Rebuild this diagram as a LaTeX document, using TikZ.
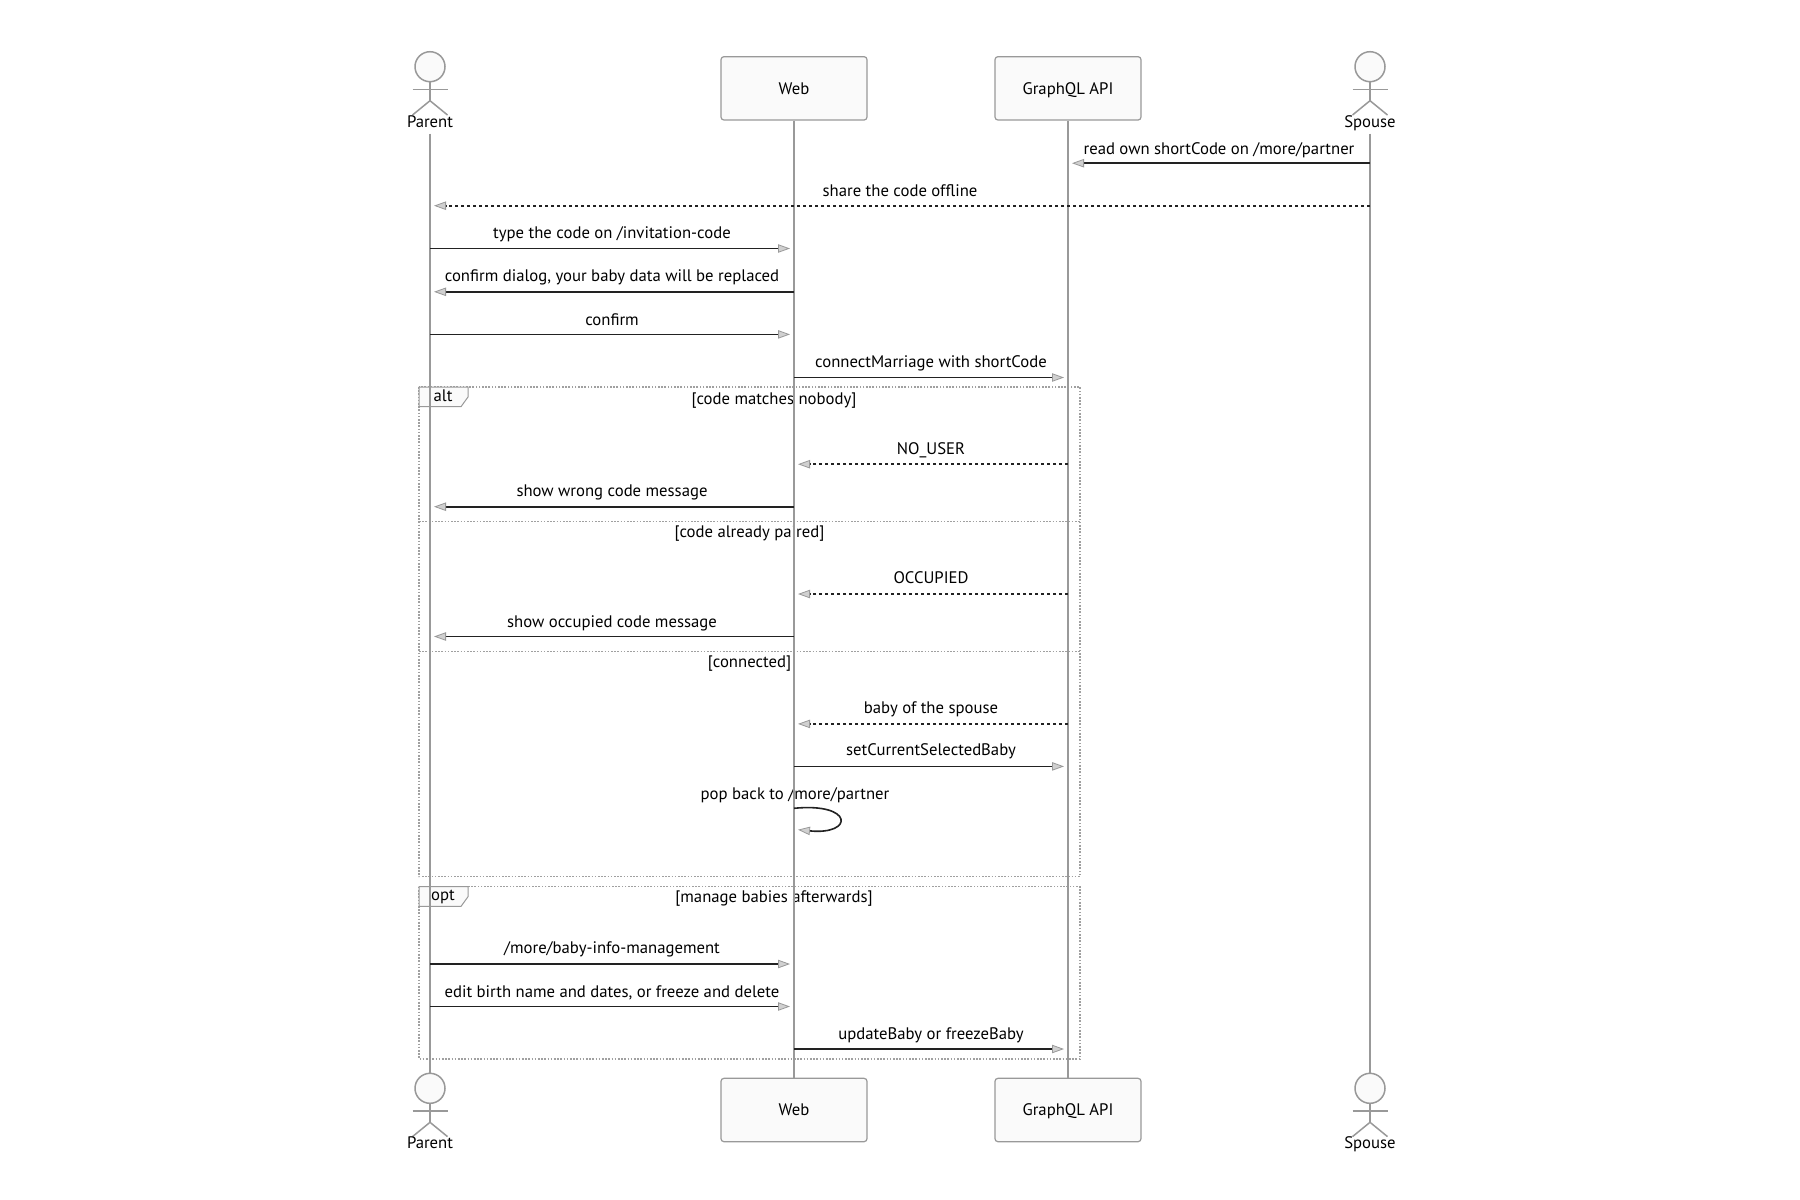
\documentclass[tikz,border=0pt]{standalone}
\usepackage{fontspec}
\setmainfont{PT Sans}
\usetikzlibrary{arrows.meta,calc}
\definecolor{lifegray}{HTML}{999999}
\definecolor{boxfill}{HTML}{FAFAFA}
\definecolor{msgcol}{HTML}{222222}
\definecolor{headfill}{HTML}{D0D0D0}
\definecolor{framecol}{HTML}{A0A0A0}
\newcommand\actorbody[1]{%
  \draw[actorline] (#1.south) -- ($(#1.center)+(0,34)$) coordinate (#1hip);
  \draw[actorline] ($(#1.center)+(-17.5,22.6)$) -- ($(#1.center)+(17.5,22.6)$);
  \draw[actorline] ($(#1hip)+(-17.5,14.3)$) -- (#1hip) -- ($(#1hip)+(17.5,14.3)$);}
\begin{document}
\begin{tikzpicture}[x=0.5pt,y=-0.5pt,
  txt/.style={font=\fontsize{8.35}{10}\selectfont, text=black, inner sep=0pt, text height=6.2pt, text depth=1.8pt},
  participant/.style={draw=lifegray, fill=boxfill, rounded corners=1.5pt, line width=0.6pt,
    minimum width=73pt, minimum height=31.7pt, inner sep=0pt, font=\fontsize{8.35}{10}\selectfont,
    text height=6.2pt, text depth=0.4pt},
  actorhead/.style={circle, draw=lifegray, fill=boxfill, line width=0.75pt, minimum size=15pt, inner sep=0pt},
  actorline/.style={draw=lifegray, line width=0.75pt},
  actorlabel/.style={txt, inner ysep=1pt},
  lifeline/.style={draw=lifegray, line width=0.8pt},
  msghead/.style={-{Triangle[fill=headfill, color=lifegray, length=6pt, width=4.2pt, line width=0.4pt]}},
  msg/.style={draw=msgcol, line width=0.8pt, msghead, shorten >=2pt},
  reply/.style={msg, dash pattern=on 1.5pt off 1.5pt},
  frame/.style={draw=framecol, line width=0.6pt, dash pattern=on 0.8pt off 0.8pt},
  framelabel/.style={draw=lifegray, fill=boxfill, line width=0.5pt},
]
\useasboundingbox (0,0) rectangle (1800,1200);
\fill[white] (0,0) rectangle (1800,1200);

% ---------- participants (top) ----------
\node[actorhead] (Phead) at (430,66.7) {};
\actorbody{Phead}
\node[actorlabel] (Plab) at (430,123.3) {Parent};
\node[participant] (Wtop) at (794,88.35) {Web};
\node[participant] (Gtop) at (1068,88.35) {GraphQL API};
\node[actorhead] (Shead) at (1370,66.7) {};
\actorbody{Shead}
\node[actorlabel] (Slab) at (1370,123.3) {Spouse};

% ---------- participants (bottom) ----------
\node[actorhead] (Pbhead) at (430,1088.3) {};
\actorbody{Pbhead}
\node[actorlabel] (Pblab) at (430,1144.3) {Parent};
\node[participant] (Wbot) at (794,1110) {Web};
\node[participant] (Gbot) at (1068,1110) {GraphQL API};
\node[actorhead] (Sbhead) at (1370,1088.3) {};
\actorbody{Sbhead}
\node[actorlabel] (Sblab) at (1370,1144.3) {Spouse};

% ---------- frames ----------
\draw[frame] (419,387) rectangle (1080,876.7);
\draw[frame] (419,521.6) -- (1080,521.6);
\draw[frame] (419,651.5) -- (1080,651.5);
\draw[framelabel] (419,387) -- (468,387) -- (468,397) -- (461,406.7) -- (419,406.7) -- cycle;
\node[txt] (altlab) at (443,397) {alt};
\node[txt] (altc1) at (774,399.9) {[code matches nobody]};
\node[txt] (altc2) at (749.5,533.1) {[code already paired]};
\node[txt] (altc3) at (749.5,663) {[connected]};

\draw[frame] (419,886.7) rectangle (1080,1059);
\draw[framelabel] (419,886.7) -- (468,886.7) -- (468,896.7) -- (461,906.4) -- (419,906.4) -- cycle;
\node[txt] (optlab) at (443,896.5) {opt};
\node[txt] (optc1) at (774,898.5) {[manage babies afterwards]};

% ---------- message texts ----------
\node[txt] (t1) at (1219,149.7) {read own shortCode on /more/partner};
\node[txt] (t2) at (900,191.9) {share the code offline};
\node[txt] (t3) at (612,234.4) {type the code on /invitation-code};
\node[txt] (t4) at (612,276.9) {confirm dialog, your baby data will be replaced};
\node[txt] (t5) at (612,320.6) {confirm};
\node[txt] (t6) at (931,363) {connectMarriage with shortCode};
\node[txt] (t7) at (931,450.4) {NO\_USER};
\node[txt] (t8) at (612,491.8) {show wrong code message};
\node[txt] (t9) at (931,579.1) {OCCUPIED};
\node[txt] (t10) at (612,622.8) {show occupied code message};
\node[txt] (t11) at (931,708.9) {baby of the spouse};
\node[txt] (t12) at (931,751.4) {setCurrentSelectedBaby};
\node[txt] (t13) at (795,795) {pop back to /more/partner};
\node[txt] (t14) at (612,949.1) {/more/baby-info-management};
\node[txt] (t15) at (612,992.7) {edit birth name and dates, or freeze and delete};
\node[txt] (t16) at (931,1035.2) {updateBaby or freezeBaby};

% ---------- lifelines ----------
\draw[lifeline] (Plab.south) -- (Pbhead.north);
\draw[lifeline] (Wtop.south) -- (Wbot.north);
\draw[lifeline] (Gtop.south) -- (Gbot.north);
\draw[lifeline] (Slab.south) -- (Sbhead.north);

% ---------- messages ----------
\draw[msg]   (Slab |- 0,163.2) -- (Gtop |- 0,163.2);
\draw[reply] (Slab |- 0,205.7) -- (Plab |- 0,205.7);
\draw[msg]   (Plab |- 0,248.5) -- (Wtop |- 0,248.5);
\draw[msg]   (Wtop |- 0,291.8) -- (Plab |- 0,291.8);
\draw[msg]   (Plab |- 0,334.4) -- (Wtop |- 0,334.4);
\draw[msg]   (Wtop |- 0,377.5) -- (Gtop |- 0,377.5);
\draw[reply] (Gtop |- 0,464.2) -- (Wtop |- 0,464.2);
\draw[msg]   (Wtop |- 0,506.7) -- (Plab |- 0,506.7);
\draw[reply] (Gtop |- 0,594) -- (Wtop |- 0,594);
\draw[msg]   (Wtop |- 0,636.5) -- (Plab |- 0,636.5);
\draw[reply] (Gtop |- 0,723.9) -- (Wtop |- 0,723.9);
\draw[msg]   (Wtop |- 0,766.4) -- (Gtop |- 0,766.4);
\draw[msg]   (Wtop |- 0,808.3) .. controls +(60,-6) and +(60,6) .. (Wtop |- 0,829.3);
\draw[msg]   (Plab |- 0,964) -- (Wtop |- 0,964);
\draw[msg]   (Plab |- 0,1006.5) -- (Wtop |- 0,1006.5);
\draw[msg]   (Wtop |- 0,1049) -- (Gtop |- 0,1049);
\end{tikzpicture}
\end{document}
